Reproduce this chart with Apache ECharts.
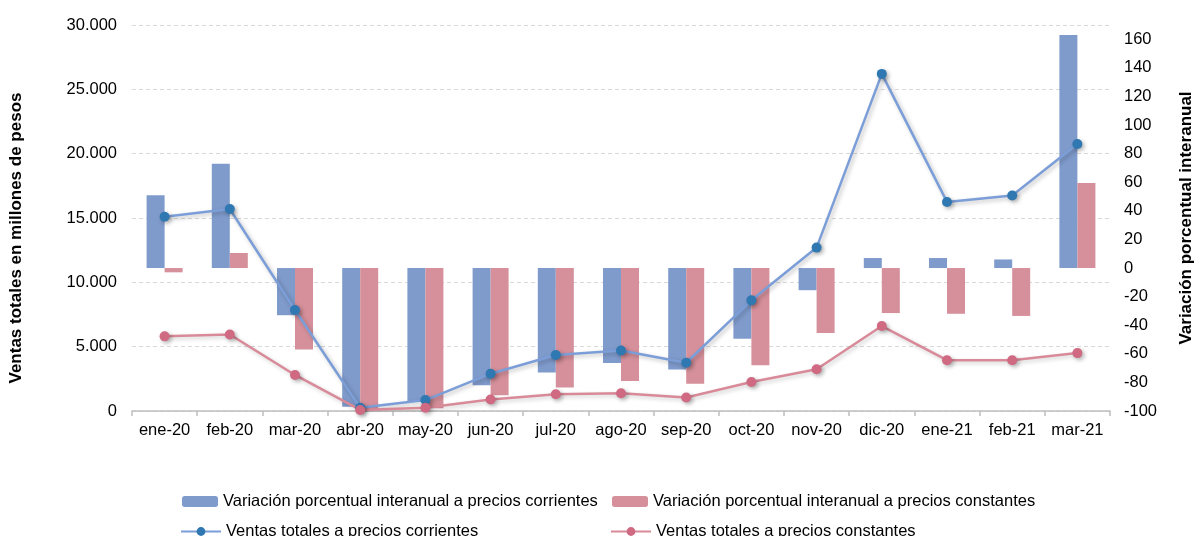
<!DOCTYPE html>
<html><head><meta charset="utf-8">
<script src="https://cdn.jsdelivr.net/npm/echarts@6/dist/echarts.min.js"></script>
<style>html,body{margin:0;padding:0;background:#fff}#c{width:1195px;height:536px}</style>
</head><body><div id="c"></div>
<script>
const categories = ['ene-20','feb-20','mar-20','abr-20','may-20','jun-20','jul-20','ago-20','sep-20','oct-20','nov-20','dic-20','ene-21','feb-21','mar-21'];
const varCorrientes = [51, 73, -33, -97, -93.5, -82, -73, -66.5, -71, -49.5, -15.5, 7, 7, 6, 163];
const varConstantes = [-3, 10.5, -57, -99.5, -98, -89, -83.5, -79, -81, -68, -45.5, -31.5, -32, -33.5, 59.5];
const ventasCorrientes = [15100, 15700, 7850, 250, 850, 2900, 4350, 4700, 3750, 8600, 12700, 26200, 16250, 16750, 20750];
const ventasConstantes = [5800, 5950, 2800, 80, 250, 900, 1300, 1380, 1050, 2250, 3250, 6600, 3950, 3950, 4500];
const leftTicks = {min: 0, max: 30000, interval: 5000};
const rightTicks = {min: -100, max: 170, interval: 20};

const names = ['Variación porcentual interanual a precios corrientes','Variación porcentual interanual a precios constantes','Ventas totales a precios corrientes','Ventas totales a precios constantes'];
const font = 'Liberation Sans, Arial, sans-serif';
const chart = echarts.init(document.getElementById('c'));
const fmt = v => String(v).replace(/\B(?=(\d{3})+(?!\d))/g, '.');
const legendBase = {itemWidth: 36, itemHeight: 11, itemGap: 5, textStyle: {fontFamily: font, fontSize: 16.5, color: '#000'}, selectedMode: false};
chart.setOption({
  animation: false,
  grid: {left: 132, right: 85, top: 25, bottom: 125},
  legend: [
    Object.assign({}, legendBase, {data: [names[0]], left: 177, top: 488}),
    Object.assign({}, legendBase, {data: [names[1]], left: 607, top: 488}),
    Object.assign({}, legendBase, {data: [names[2]], left: 175, top: 518, itemWidth: 40}),
    Object.assign({}, legendBase, {data: [names[3]], left: 605, top: 518, itemWidth: 40})
  ],
  xAxis: {
    type: 'category', data: categories, boundaryGap: true,
    axisLine: {lineStyle: {color: '#BFBFBF', width: 1.5}},
    axisTick: {show: true, interval: 0, length: 5, lineStyle: {color: '#BFBFBF', width: 1.5}},
    axisLabel: {interval: 0, fontFamily: font, fontSize: 16.5, color: '#000', margin: 11}
  },
  yAxis: [
    {type: 'value', min: leftTicks.min, max: leftTicks.max, interval: leftTicks.interval,
     axisLine: {show: false}, axisTick: {show: false},
     splitLine: {lineStyle: {color: '#D9D9D9', type: [4, 3]}},
     axisLabel: {fontFamily: font, fontSize: 16.5, color: '#000', margin: 15, formatter: fmt}},
    {type: 'value', min: rightTicks.min, max: rightTicks.max, interval: rightTicks.interval,
     axisLine: {show: false}, axisTick: {show: false}, splitLine: {show: false},
     axisLabel: {fontFamily: font, fontSize: 16.5, color: '#000', margin: 14, showMaxLabel: false}}
  ],
  graphic: [
    {type: 'text', x: 16, y: 238, rotation: Math.PI / 2,
     style: {text: 'Ventas totales en millones de pesos', font: 'bold 17px ' + font, fill: '#000', align: 'center', verticalAlign: 'middle'}},
    {type: 'text', x: 1186, y: 218, rotation: Math.PI / 2,
     style: {text: 'Variación porcentual interanual', font: 'bold 17px ' + font, fill: '#000', align: 'center', verticalAlign: 'middle'}}
  ],
  series: [
    {name: names[0], type: 'bar', yAxisIndex: 1, data: varCorrientes, barWidth: 18, barGap: '0%',
     itemStyle: {color: '#7F9BCC'}},
    {name: names[1], type: 'bar', yAxisIndex: 1, data: varConstantes, barWidth: 18,
     itemStyle: {color: '#D5909B'}},
    {name: names[2], type: 'line', yAxisIndex: 0, data: ventasCorrientes, symbol: 'circle', symbolSize: 10,
     lineStyle: {color: '#7C9ED8', width: 2.5, shadowColor: 'rgba(0,0,0,0.25)', shadowBlur: 4, shadowOffsetX: 2, shadowOffsetY: 2},
     itemStyle: {color: '#2F78B2', shadowColor: 'rgba(0,0,0,0.3)', shadowBlur: 4, shadowOffsetX: 2, shadowOffsetY: 2}},
    {name: names[3], type: 'line', yAxisIndex: 0, data: ventasConstantes, symbol: 'circle', symbolSize: 10,
     lineStyle: {color: '#D98A99', width: 2.5, shadowColor: 'rgba(0,0,0,0.2)', shadowBlur: 4, shadowOffsetX: 2, shadowOffsetY: 2},
     itemStyle: {color: '#CF6A82', shadowColor: 'rgba(0,0,0,0.3)', shadowBlur: 4, shadowOffsetX: 2, shadowOffsetY: 2}}
  ]
});
</script></body></html>
